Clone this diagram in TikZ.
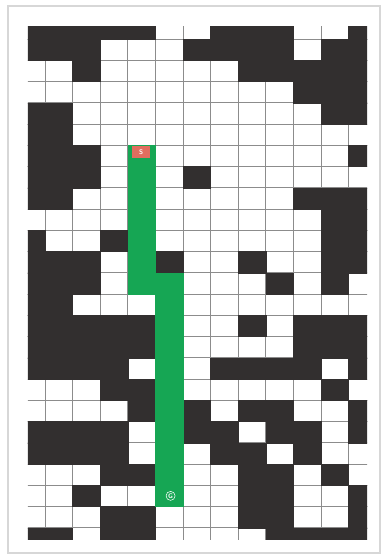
\documentclass[tikz,border=0pt]{standalone}
\usepackage{tikz}
\definecolor{wallgray}{RGB}{50,47,47}
\definecolor{pathgreen}{RGB}{22,166,84}
\definecolor{startred}{RGB}{226,110,95}
\definecolor{gridgray}{RGB}{140,140,140}
\definecolor{framegray}{RGB}{215,215,215}

\begin{document}
\begin{tikzpicture}[
                x=0.7314cm, y=-0.5631cm,
                wall/.style={fill=wallgray, draw=wallgray, line width=0.3pt},
                route/.style={fill=pathgreen, draw=pathgreen, line width=0.3pt},
                gridline/.style={draw=gridgray, line width=0.5pt},
                startbox/.style={rectangle, fill=startred, text=white, font=\tiny\sffamily\bfseries, minimum width=0.46cm, minimum height=0.32cm, inner sep=0pt},
                goalmark/.style={circle, draw=white, text=white, font=\tiny\sffamily\bfseries, line width=0.4pt, inner sep=0.6pt}
            ]
                \useasboundingbox (-0.630,-0.835) rectangle (13.246,25.424);
                \draw[framegray, line width=0.8pt] (-0.341,-0.553) rectangle (13.138,25.188);
                \begin{scope}
                    \clip (0.384,0.435) rectangle (12.667,24.576);
                    \foreach \i in {1,...,12} \draw[gridline] (\i,0) -- (\i,25);
                    \foreach \j in {1,...,24} \draw[gridline] (0,\j) -- (13,\j);
                    % walls, one list of columns per row
                    \foreach \r/\cols in {0/{0,1,2,3,4,7,8,9,12}, 1/{0,1,2,6,7,8,9,11,12},
                        2/{2,8,9,10,11,12}, 3/{10,11,12}, 4/{0,1,11,12}, 5/{0,1},
                        6/{0,1,2,12}, 7/{0,1,2,6}, 8/{0,1,10,11,12}, 9/{11,12},
                        10/{0,3,11,12}, 11/{0,1,2,5,8,11,12}, 12/{0,1,2,9,11}, 13/{0,1},
                        14/{0,1,2,3,4,8,10,11,12}, 15/{0,1,2,3,4,10,11,12},
                        16/{0,1,2,3,7,8,9,10,12}, 17/{3,4,11}, 18/{4,6,8,9,12},
                        19/{0,1,2,3,6,7,9,10,12}, 20/{0,1,2,3,7,8,10}, 21/{3,4,8,9,11},
                        22/{2,8,9,12}, 23/{3,4,8,9,12}, 24/{0,1,3,4,9,10,11,12}}
                        \foreach \c in \cols
                            \path[wall] (\c,\r) rectangle ++(1,1);
                    % route
                    \path[route] (4,6) rectangle (5,13);
                    \path[route] (5,12) rectangle (6,23);
                \end{scope}
                \node[startbox] (start) at (4.48,6.33) {S};
                \node[goalmark] (goal) at (5.55,22.5) {G};
            \end{tikzpicture}
\end{document}
